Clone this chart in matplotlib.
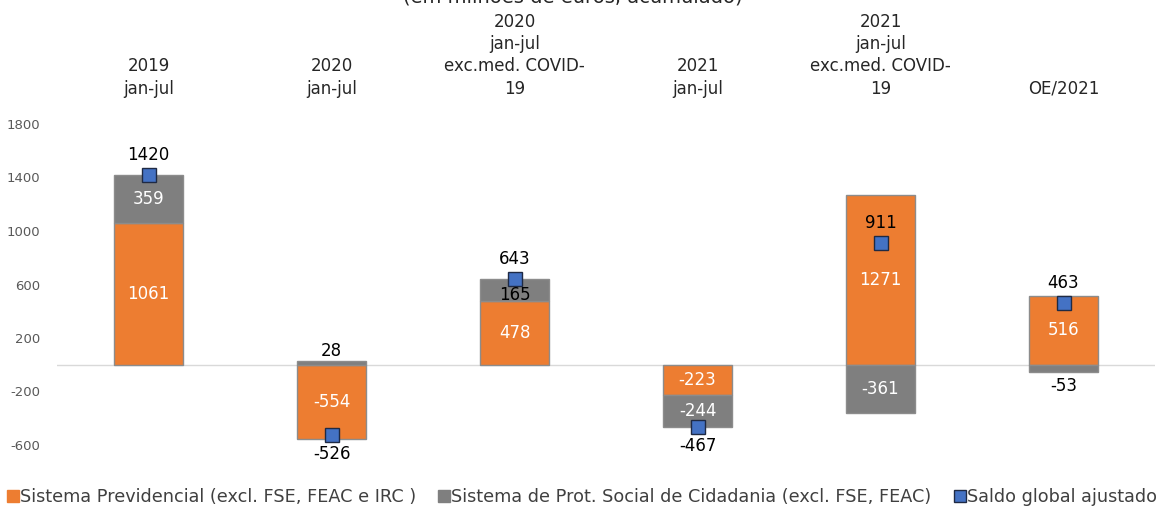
import matplotlib
matplotlib.use("Agg")
import matplotlib.pyplot as plt
import numpy as np
from matplotlib.lines import Line2D

categories = ["2019\njan-jul", "2020\njan-jul", "2020\njan-jul\nexc.med. COVID-\n19",
              "2021\njan-jul", "2021\njan-jul\nexc.med. COVID-\n19", "OE/2021"]
previdencial = [1061, -554, 478, -223, 1271, 516]
cidadania = [359, 28, 165, -244, -361, -53]
saldo = [1420, -526, 643, -467, 911, 463]
yticks = [-600, -200, 200, 600, 1000, 1400, 1800]
series_names = ["Sistema Previdencial (excl. FSE, FEAC e IRC )",
                "Sistema de Prot. Social de Cidadania (excl. FSE, FEAC)",
                "Saldo global ajustado"]
title = "(em milhões de euros, acumulado)"

ORANGE = "#ED7D31"
GRAY = "#7F7F7F"
BLUE = "#4472C4"
plt.rcParams['font.family'] = ['DejaVu Sans']

W, H = 1166, 507
fig = plt.figure(figsize=(W/100, H/100), dpi=100)
ax = fig.add_axes([57/W, 1-445/H, (1155-57)/W, (445-124)/H])

x = np.arange(len(categories))
prev = np.array(previdencial, float)
cid = np.array(cidadania, float)
pos_base = np.where(prev > 0, prev, 0)
neg_base = np.where(prev < 0, prev, 0)
cid_bottom = np.where(cid >= 0, pos_base, neg_base)

bw = 0.377
ax.bar(x, prev, width=bw, color=ORANGE, edgecolor="#8C8C8C", linewidth=1.0, zorder=2)
ax.bar(x, cid, bottom=cid_bottom, width=bw, color=GRAY, edgecolor="#8C8C8C", linewidth=1.0, zorder=2)
ax.plot(x, saldo, linestyle="none", marker="s", markersize=10, markerfacecolor=BLUE,
        markeredgecolor="#1F2A44", markeredgewidth=1.0, zorder=4)

ax.axhline(0, color="#D9D9D9", linewidth=1.0, zorder=1)

fs = 12
for i in range(len(x)):
    ax.text(x[i], prev[i]/2, f"{previdencial[i]}", ha="center", va="center",
            color="white", fontsize=fs, zorder=5)
    c = cid[i]
    if abs(c) >= 200:
        ax.text(x[i], cid_bottom[i] + c/2, f"{cidadania[i]}", ha="center", va="center",
                color="white", fontsize=fs, zorder=5)
    elif abs(c) >= 100:
        ax.text(x[i], cid_bottom[i] + c/2 - 40, f"{cidadania[i]}", ha="center", va="center",
                color="black", fontsize=fs, zorder=5)
    else:
        if c >= 0:
            ax.text(x[i], cid_bottom[i] + c + 5, f"{cidadania[i]}", ha="center", va="bottom",
                    color="black", fontsize=fs, zorder=5)
        else:
            ax.text(x[i], cid_bottom[i] + c - 40, f"{cidadania[i]}", ha="center", va="top",
                    color="black", fontsize=fs, zorder=5)
    s = saldo[i]
    if s >= 0:
        ax.annotate(f"{s}", (x[i], s), xytext=(0, 8), textcoords="offset points",
                    ha="center", va="bottom", fontsize=fs, color="black", zorder=6,
                    annotation_clip=False)
    else:
        ax.annotate(f"{s}", (x[i], s), xytext=(0, -7), textcoords="offset points",
                    ha="center", va="top", fontsize=fs, color="black", zorder=6,
                    annotation_clip=False)

ax.set_xlim(-0.5, len(x) - 0.5)
ax.set_ylim(-600, 1800)
ax.set_yticks(yticks)
ax.set_yticklabels([str(t) for t in yticks], color="#595959", fontsize=9.5)
ax.tick_params(axis="y", length=0, pad=12)
ax.xaxis.tick_top()
ax.set_xticks(x)
ax.set_xticklabels(categories, fontsize=12, color="#262626", linespacing=1.3)
ax.tick_params(axis="x", length=0, pad=19)
for sp in ax.spines.values():
    sp.set_visible(False)

fig.text(573/W, 1 + 3/H, title, ha="center", va="center", fontsize=14, color="#262626")

handles = [Line2D([], [], linestyle="none", marker="s", markersize=8, markerfacecolor=ORANGE, markeredgecolor=ORANGE),
           Line2D([], [], linestyle="none", marker="s", markersize=8, markerfacecolor=GRAY, markeredgecolor=GRAY),
           Line2D([], [], linestyle="none", marker="s", markersize=8, markerfacecolor=BLUE, markeredgecolor="#1F2A44")]
fig.legend(handles, series_names, loc="center", bbox_to_anchor=(582/W, 1 - 497/H), ncol=3,
           frameon=False, fontsize=12.7, handlelength=0.6, handletextpad=0.1, columnspacing=1.3,
           labelcolor="#404040", borderaxespad=0, borderpad=0)

fig.savefig("out.png", dpi=100)
